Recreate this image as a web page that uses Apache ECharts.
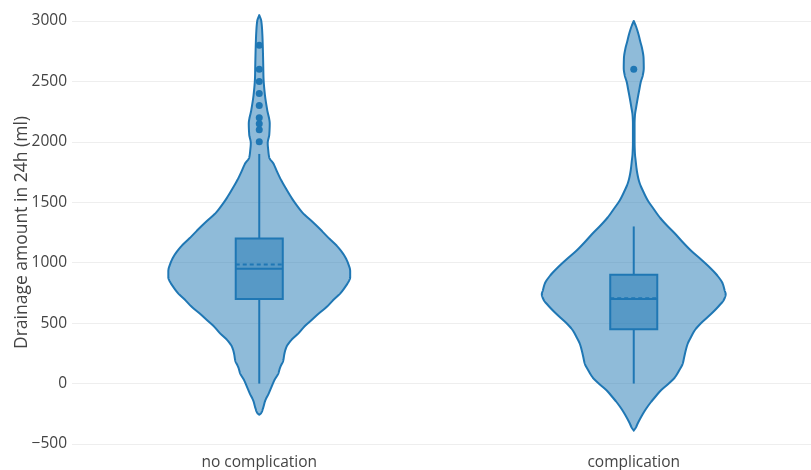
<!DOCTYPE html>
<html><head><meta charset="utf-8">
<script src="https://cdn.jsdelivr.net/npm/echarts@6/dist/echarts.min.js"></script>
<style>html,body{margin:0;padding:0;background:#fff}#c{width:811px;height:470px}</style>
</head><body><div id="c"></div>
<script>
const categories = ['no complication', 'complication'];
const yMin = -500, yMax = 3000, yStep = 500;

// Violin outlines: level (ml) and relative density (1 = widest)
const noCompLevels = [3049,3000,2900,2800,2650,2535,2400,2262,2150,2060,1990,1930,1870,1823,1750,1682,1610,1541,1470,1408,1340,1268,1200,1127,1060,994,930,878,853,800,745,690,630,575,522,470,414,350,298,240,190,135,83,25,-33,-90,-141,-200,-249,-257];
const noCompDensity = [0,0.022,0.033,0.038,0.043,0.046,0.060,0.087,0.114,0.109,0.092,0.098,0.109,0.152,0.196,0.239,0.293,0.348,0.413,0.478,0.576,0.674,0.761,0.859,0.924,0.967,0.989,0.989,0.978,0.935,0.880,0.804,0.728,0.641,0.565,0.489,0.424,0.337,0.293,0.272,0.261,0.228,0.207,0.163,0.130,0.098,0.065,0.043,0.016,0];
const compLevels = [3000,2950,2883,2830,2775,2690,2610,2550,2494,2430,2361,2290,2220,2150,2000,1900,1850,1765,1700,1657,1590,1516,1450,1375,1310,1243,1170,1102,1030,961,890,828,770,740,690,650,605,550,497,440,381,330,273,220,166,110,50,0,-58,-110,-166,-225,-282,-330,-365,-389];
const compDensity = [0,0.027,0.054,0.071,0.090,0.107,0.109,0.098,0.076,0.060,0.043,0.027,0.013,0.009,0.009,0.013,0.020,0.033,0.049,0.065,0.103,0.152,0.212,0.283,0.359,0.446,0.533,0.620,0.728,0.826,0.913,0.967,0.989,1.0,0.978,0.935,0.880,0.804,0.728,0.663,0.620,0.587,0.565,0.549,0.533,0.495,0.446,0.380,0.293,0.234,0.174,0.120,0.076,0.043,0.022,0];

// Box statistics per category
const whiskerLow = [0, 0];
const q1 = [700, 450];
const median = [950, 700];
const q3 = [1200, 900];
const whiskerHigh = [1900, 1300];
const mean = [985, 705];

// Outlier points
const outliersNoComp = [2800, 2600, 2500, 2400, 2300, 2200, 2150, 2100, 2000];
const outliersComp = [2600];

const profiles = [
  {levels: noCompLevels, dens: noCompDensity},
  {levels: compLevels, dens: compDensity}
];
const BLUE = '#1f77b4';
const FILL = 'rgba(31,119,180,0.5)';
const FONT = '"Open Sans", Verdana, Arial, sans-serif';

// monotone cubic (Fritsch-Carlson) evaluation helper for smooth outlines
function monotoneSampler(xs, ys) {
  const n = xs.length;
  const d = [], m = new Array(n);
  for (let i = 0; i < n - 1; i++) d.push((ys[i + 1] - ys[i]) / (xs[i + 1] - xs[i]));
  m[0] = d[0]; m[n - 1] = d[n - 2];
  for (let i = 1; i < n - 1; i++) {
    if (d[i - 1] * d[i] <= 0) m[i] = 0;
    else {
      const h0 = xs[i] - xs[i - 1], h1 = xs[i + 1] - xs[i];
      const w1 = 2 * h1 + h0, w2 = h1 + 2 * h0;
      m[i] = (w1 + w2) / (w1 / d[i - 1] + w2 / d[i]);
    }
  }
  return function (x) {
    let k = 0;
    while (k < n - 2 && x > xs[k + 1]) k++;
    const h = xs[k + 1] - xs[k];
    const t = (x - xs[k]) / h;
    const t2 = t * t, t3 = t2 * t;
    return (2 * t3 - 3 * t2 + 1) * ys[k] + (t3 - 2 * t2 + t) * h * m[k] +
      (-2 * t3 + 3 * t2) * ys[k + 1] + (t3 - t2) * h * m[k + 1];
  };
}

function renderViolin(params, api) {
  const ci = api.value(0);
  const prof = profiles[ci];
  const band = api.size([1, 0])[0];
  const scale = band * 0.2455;
  const cx = api.coord([ci, 0])[0];
  const py = prof.levels.map(v => api.coord([ci, v])[1]);
  const pw = prof.dens.map(v => v * scale);
  const f = monotoneSampler(py, pw);
  const y0 = py[0], y1 = py[py.length - 1];
  const right = [], left = [];
  for (let y = y0; y <= y1; y += 0.5) {
    const w = Math.max(0, f(y));
    right.push([cx + w, y]);
    left.push([cx - w, y]);
  }
  right.push([cx, y1]);
  const pts = right.concat(left.reverse());
  return {
    type: 'polygon',
    shape: {points: pts},
    style: {fill: FILL, stroke: BLUE, lineWidth: 2, lineJoin: 'round'}
  };
}

function renderBox(params, api) {
  const ci = api.value(0);
  const band = api.size([1, 0])[0];
  const hw = band * 0.0628;
  const pLow = api.coord([ci, api.value(1)]);
  const pQ1 = api.coord([ci, api.value(2)]);
  const pMed = api.coord([ci, api.value(3)]);
  const pQ3 = api.coord([ci, api.value(4)]);
  const pHigh = api.coord([ci, api.value(5)]);
  const pMean = api.coord([ci, api.value(6)]);
  const x = pQ1[0];
  return {
    type: 'group',
    children: [
      {type: 'line', shape: {x1: x, y1: pHigh[1], x2: x, y2: pQ3[1]}, style: {stroke: BLUE, lineWidth: 2}},
      {type: 'line', shape: {x1: x, y1: pQ1[1], x2: x, y2: pLow[1]}, style: {stroke: BLUE, lineWidth: 2}},
      {type: 'rect', shape: {x: x - hw, y: pQ3[1], width: 2 * hw, height: pQ1[1] - pQ3[1]}, style: {fill: FILL, stroke: BLUE, lineWidth: 2}},
      {type: 'line', shape: {x1: x - hw, y1: pMean[1], x2: x + hw, y2: pMean[1]}, style: {stroke: BLUE, lineWidth: 2, lineDash: [4, 3]}},
      {type: 'line', shape: {x1: x - hw, y1: pMed[1], x2: x + hw, y2: pMed[1]}, style: {stroke: BLUE, lineWidth: 2}}
    ]
  };
}

const boxData = categories.map((c, i) => [i, whiskerLow[i], q1[i], median[i], q3[i], whiskerHigh[i], mean[i]]);
const outlierData = outliersNoComp.map(v => [0, v]).concat(outliersComp.map(v => [1, v]));

const chart = echarts.init(document.getElementById('c'), null, {renderer: 'canvas'});
chart.setOption({
  animation: false,
  backgroundColor: '#fff',
  grid: {left: 72, right: -10, top: 21, bottom: 26, containLabel: false, outerBoundsMode: 'none'},
  xAxis: {
    type: 'category',
    data: categories,
    axisLine: {show: false},
    axisTick: {show: false},
    splitLine: {show: false},
    axisLabel: {color: '#444', fontSize: 15.5, fontFamily: FONT, margin: 11}
  },
  yAxis: {
    type: 'value',
    min: yMin, max: yMax, interval: yStep,
    name: 'Drainage amount in 24h (ml)',
    nameLocation: 'middle',
    nameGap: 41,
    nameMoveOverlap: false,
    nameTextStyle: {color: '#444', fontSize: 17.5, fontFamily: FONT},
    axisLine: {show: false},
    axisTick: {show: false},
    splitLine: {lineStyle: {color: '#eeeeee', width: 1}},
    axisLabel: {
      color: '#444', fontSize: 15.5, fontFamily: FONT, margin: 5,
      formatter: v => (v < 0 ? '\u2212' + Math.abs(v) : String(v))
    }
  },
  series: [
    {type: 'custom', renderItem: renderViolin, data: categories.map((c, i) => [i]), clip: false, z: 2, silent: true},
    {type: 'custom', renderItem: renderBox, data: boxData, clip: false, z: 3, silent: true, encode: {x: 0, y: [1,2,3,4,5,6]}},
    {type: 'scatter', data: outlierData, symbol: 'circle', symbolSize: 7, itemStyle: {color: BLUE, opacity: 1}, z: 4, silent: true}
  ]
});
</script></body></html>
